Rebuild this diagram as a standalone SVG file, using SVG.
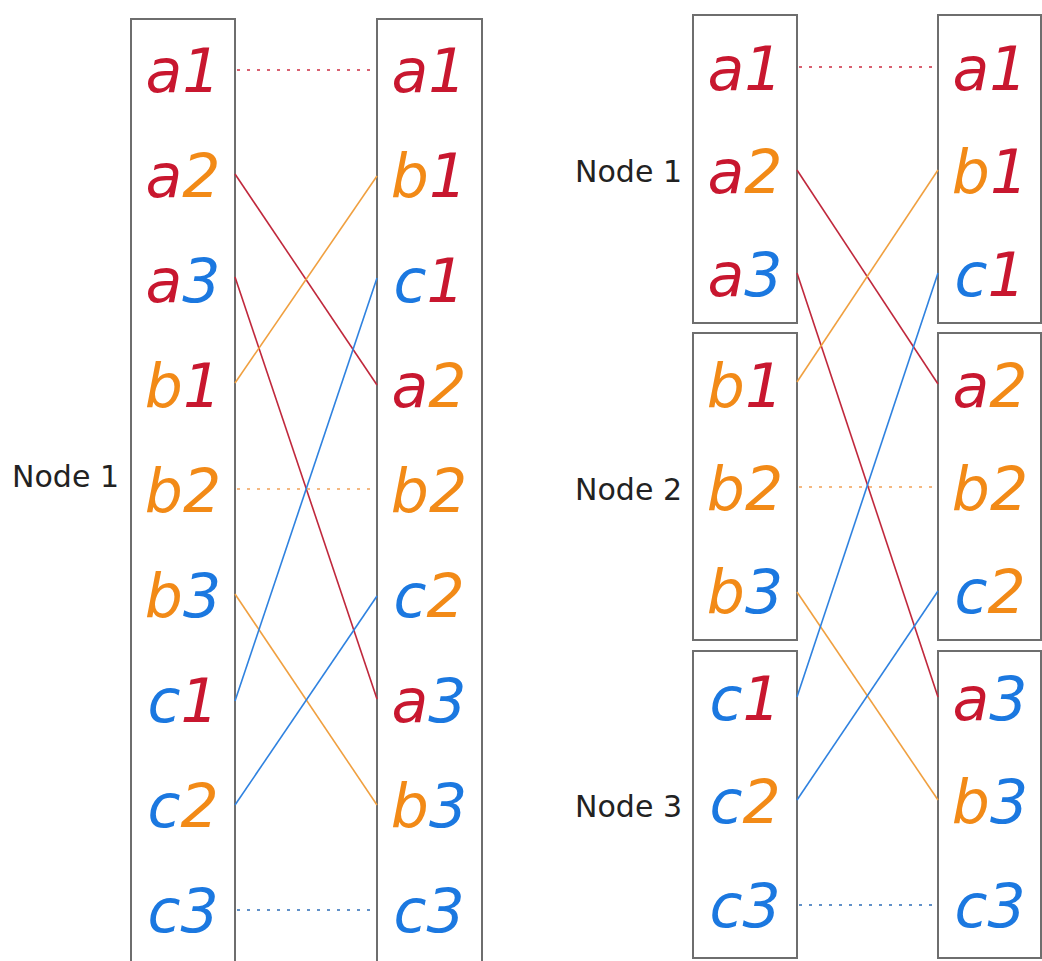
<svg xmlns="http://www.w3.org/2000/svg" width="1042" height="961" viewBox="0 0 1042 961">
<style>
.box{fill:#fff;stroke:#6e6e6e;stroke-width:2}
.t{font-family:"DejaVu Sans",sans-serif;font-style:italic;font-size:60px;text-anchor:middle}
.lbl{font-family:"DejaVu Sans",sans-serif;font-size:30px;fill:#222;text-anchor:end}
.r{fill:#c8172f}.o{fill:#f28a17}.b{fill:#1b78e0}
.lr{stroke:#c0283c;stroke-width:1.6;fill:none}
.lo{stroke:#f0a040;stroke-width:1.6;fill:none}
.lb{stroke:#2f82e0;stroke-width:1.6;fill:none}
.dr{stroke:#d86070;stroke-width:2;stroke-dasharray:3 7;fill:none}
.do{stroke:#f5b880;stroke-width:2;stroke-dasharray:3 7;fill:none}
.db{stroke:#6090c8;stroke-width:2;stroke-dasharray:3 7;fill:none}
</style>
<rect width="1042" height="961" fill="#fff"/>

<!-- Left diagram -->
<g id="left-src">
<rect class="box" x="131" y="19" width="104" height="960"/>
<text class="t" x="183" y="92"><tspan class="r">a</tspan><tspan class="r">1</tspan></text>
<text class="t" x="183" y="197"><tspan class="r">a</tspan><tspan class="o">2</tspan></text>
<text class="t" x="183" y="302"><tspan class="r">a</tspan><tspan class="b">3</tspan></text>
<text class="t" x="183" y="407"><tspan class="o">b</tspan><tspan class="r">1</tspan></text>
<text class="t" x="183" y="512"><tspan class="o">b</tspan><tspan class="o">2</tspan></text>
<text class="t" x="183" y="617"><tspan class="o">b</tspan><tspan class="b">3</tspan></text>
<text class="t" x="183" y="722"><tspan class="b">c</tspan><tspan class="r">1</tspan></text>
<text class="t" x="183" y="827"><tspan class="b">c</tspan><tspan class="o">2</tspan></text>
<text class="t" x="183" y="932"><tspan class="b">c</tspan><tspan class="b">3</tspan></text>
</g>
<g id="left-dst">
<rect class="box" x="377" y="19" width="105" height="960"/>
<text class="t" x="429" y="92"><tspan class="r">a</tspan><tspan class="r">1</tspan></text>
<text class="t" x="429" y="197"><tspan class="o">b</tspan><tspan class="r">1</tspan></text>
<text class="t" x="429" y="302"><tspan class="b">c</tspan><tspan class="r">1</tspan></text>
<text class="t" x="429" y="407"><tspan class="r">a</tspan><tspan class="o">2</tspan></text>
<text class="t" x="429" y="512"><tspan class="o">b</tspan><tspan class="o">2</tspan></text>
<text class="t" x="429" y="617"><tspan class="b">c</tspan><tspan class="o">2</tspan></text>
<text class="t" x="429" y="722"><tspan class="r">a</tspan><tspan class="b">3</tspan></text>
<text class="t" x="429" y="827"><tspan class="o">b</tspan><tspan class="b">3</tspan></text>
<text class="t" x="429" y="932"><tspan class="b">c</tspan><tspan class="b">3</tspan></text>
</g>
<g id="left-label">
<text class="lbl" x="119" y="487">Node 1</text>
</g>

<!-- Right diagram -->
<g id="node1-src">
<rect class="box" x="693" y="15" width="104" height="308"/>
<text class="lbl" x="682" y="182">Node 1</text>
<text class="t" x="745" y="90"><tspan class="r">a</tspan><tspan class="r">1</tspan></text>
<text class="t" x="745" y="193"><tspan class="r">a</tspan><tspan class="o">2</tspan></text>
<text class="t" x="745" y="296"><tspan class="r">a</tspan><tspan class="b">3</tspan></text>
</g>
<g id="node2-src">
<rect class="box" x="693" y="333" width="104" height="307"/>
<text class="lbl" x="682" y="500">Node 2</text>
<text class="t" x="745" y="407"><tspan class="o">b</tspan><tspan class="r">1</tspan></text>
<text class="t" x="745" y="510"><tspan class="o">b</tspan><tspan class="o">2</tspan></text>
<text class="t" x="745" y="613"><tspan class="o">b</tspan><tspan class="b">3</tspan></text>
</g>
<g id="node3-src">
<rect class="box" x="693" y="651" width="104" height="307"/>
<text class="lbl" x="682" y="817">Node 3</text>
<text class="t" x="745" y="720"><tspan class="b">c</tspan><tspan class="r">1</tspan></text>
<text class="t" x="745" y="823"><tspan class="b">c</tspan><tspan class="o">2</tspan></text>
<text class="t" x="745" y="927"><tspan class="b">c</tspan><tspan class="b">3</tspan></text>
</g>
<g id="node1-dst">
<rect class="box" x="938" y="15" width="103" height="308"/>
<text class="t" x="990" y="90"><tspan class="r">a</tspan><tspan class="r">1</tspan></text>
<text class="t" x="990" y="193"><tspan class="o">b</tspan><tspan class="r">1</tspan></text>
<text class="t" x="990" y="296"><tspan class="b">c</tspan><tspan class="r">1</tspan></text>
</g>
<g id="node2-dst">
<rect class="box" x="938" y="333" width="103" height="307"/>
<text class="t" x="990" y="407"><tspan class="r">a</tspan><tspan class="o">2</tspan></text>
<text class="t" x="990" y="510"><tspan class="o">b</tspan><tspan class="o">2</tspan></text>
<text class="t" x="990" y="613"><tspan class="b">c</tspan><tspan class="o">2</tspan></text>
</g>
<g id="node3-dst">
<rect class="box" x="938" y="651" width="103" height="307"/>
<text class="t" x="990" y="720"><tspan class="r">a</tspan><tspan class="b">3</tspan></text>
<text class="t" x="990" y="823"><tspan class="o">b</tspan><tspan class="b">3</tspan></text>
<text class="t" x="990" y="927"><tspan class="b">c</tspan><tspan class="b">3</tspan></text>
</g>

<g id="connectors">
<line class="dr" x1="237" y1="70" x2="377" y2="70"/>
<line class="lr" x1="235" y1="174" x2="377" y2="385"/>
<line class="lr" x1="235" y1="277" x2="377" y2="699"/>
<line class="lo" x1="235" y1="383" x2="377" y2="176"/>
<line class="do" x1="237" y1="489" x2="377" y2="489"/>
<line class="lo" x1="235" y1="594" x2="377" y2="805"/>
<line class="lb" x1="235" y1="701" x2="377" y2="278"/>
<line class="lb" x1="235" y1="805" x2="377" y2="596"/>
<line class="db" x1="237" y1="910" x2="377" y2="910"/>

<line class="dr" x1="799" y1="67" x2="938" y2="67"/>
<line class="lr" x1="797" y1="170" x2="938" y2="384"/>
<line class="lr" x1="797" y1="273" x2="938" y2="697"/>
<line class="lo" x1="797" y1="382" x2="938" y2="170"/>
<line class="do" x1="799" y1="487" x2="938" y2="487"/>
<line class="lo" x1="797" y1="592" x2="938" y2="800"/>
<line class="lb" x1="797" y1="697" x2="938" y2="273"/>
<line class="lb" x1="797" y1="800" x2="938" y2="591"/>
<line class="db" x1="799" y1="905" x2="938" y2="905"/>
</g>
</svg>
